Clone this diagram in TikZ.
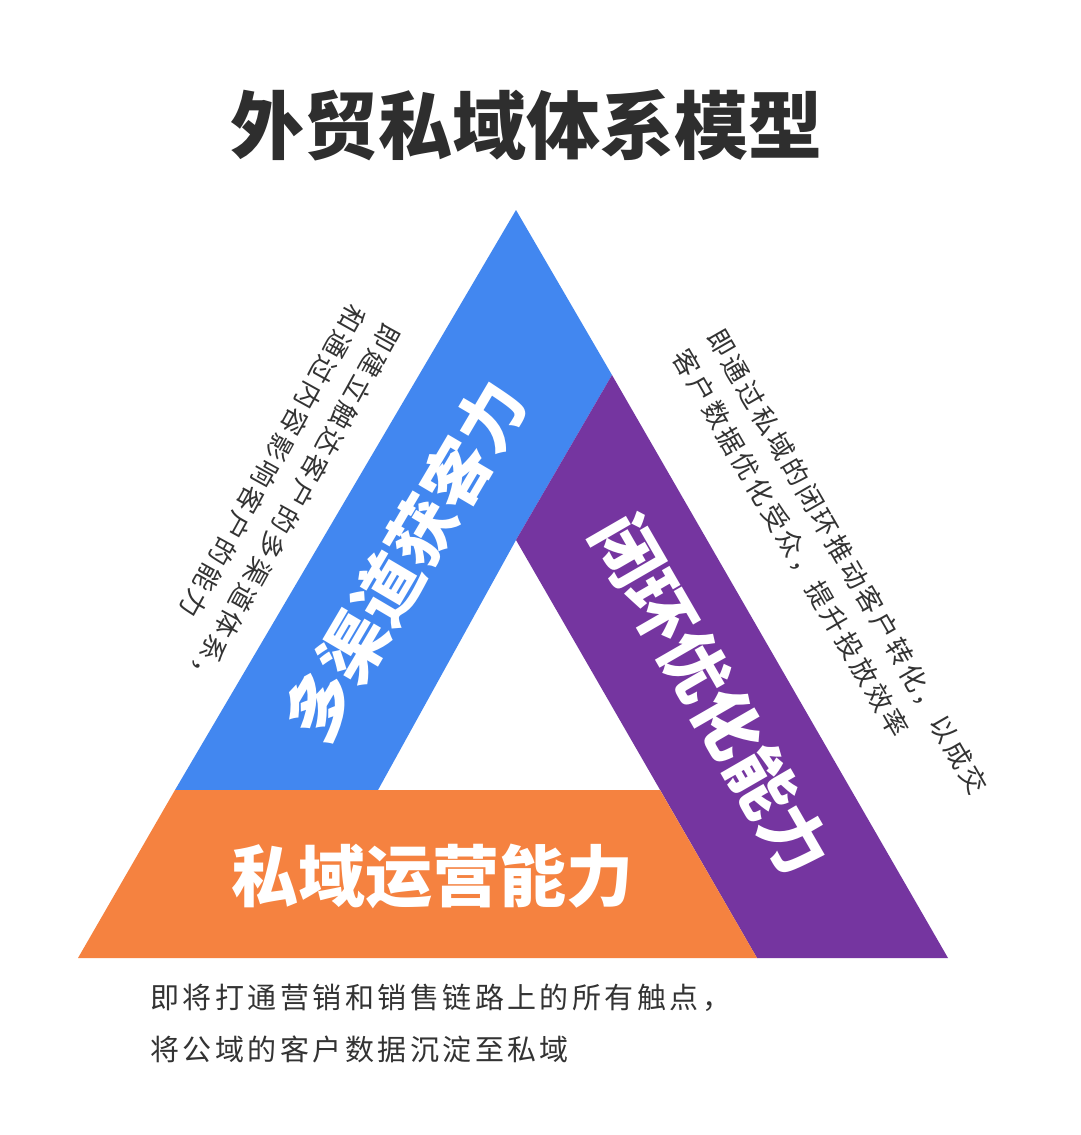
\documentclass[tikz,border=0pt]{standalone}
\usepackage{fontspec}
\newfontfamily\cjk{Noto Sans CJK SC}
\newfontfamily\cjksp[LetterSpace=12]{Noto Sans CJK SC}
\begin{document}
\begin{tikzpicture}[x=1pt,y=-1pt,
  band/.style={draw=none},
  bigtxt/.style={text=white,font=\cjk\bfseries\fontsize{67}{70}\selectfont,inner sep=0},
  note/.style={text=black!80,font=\cjksp\fontsize{26.5}{40}\selectfont,align=left,inner sep=0}]
\useasboundingbox (0,0) rectangle (1080,1135);
\fill[white] (0,0) rectangle (1080,1135);
\node[font=\cjk\bfseries\fontsize{74}{78}\selectfont,text=black!82] (title) at (526,125) {外贸私域体系模型};
\fill[band,fill={rgb,255:red,66;green,135;blue,240}] (516,210) -- (612,375) -- (516,540) -- (378,790) -- (175,790) -- cycle;
\fill[band,fill={rgb,255:red,117;green,53;blue,160}] (612,375) -- (948,958) -- (757,958) -- (516,540) -- cycle;
\fill[band,fill={rgb,255:red,245;green,130;blue,64}] (175,790) -- (660,790) -- (757,958) -- (78,958) -- cycle;
\node[bigtxt,rotate=59.5] (blue) at (405,560) {多渠道获客力};
\node[bigtxt,rotate=-60] (purple) at (712,695) {闭环优化能力};
\node[bigtxt] (orange) at (432,876) {私域运营能力};
\node[note,rotate=-119] (ln) at (276,497) {即建立触达客户的多渠道体系，\\和通过内容影响客户的能力};
\node[note,rotate=-60] (rn) at (830,572) {即通过私域的闭环推动客户转化，以成交\\客户数据优化受众，提升投放效率};
\node[note,font=\cjksp\fontsize{29}{52}\selectfont,anchor=north west] (bn) at (150,984) {即将打通营销和销售链路上的所有触点，\\将公域的客户数据沉淀至私域};
\end{tikzpicture}
\end{document}
